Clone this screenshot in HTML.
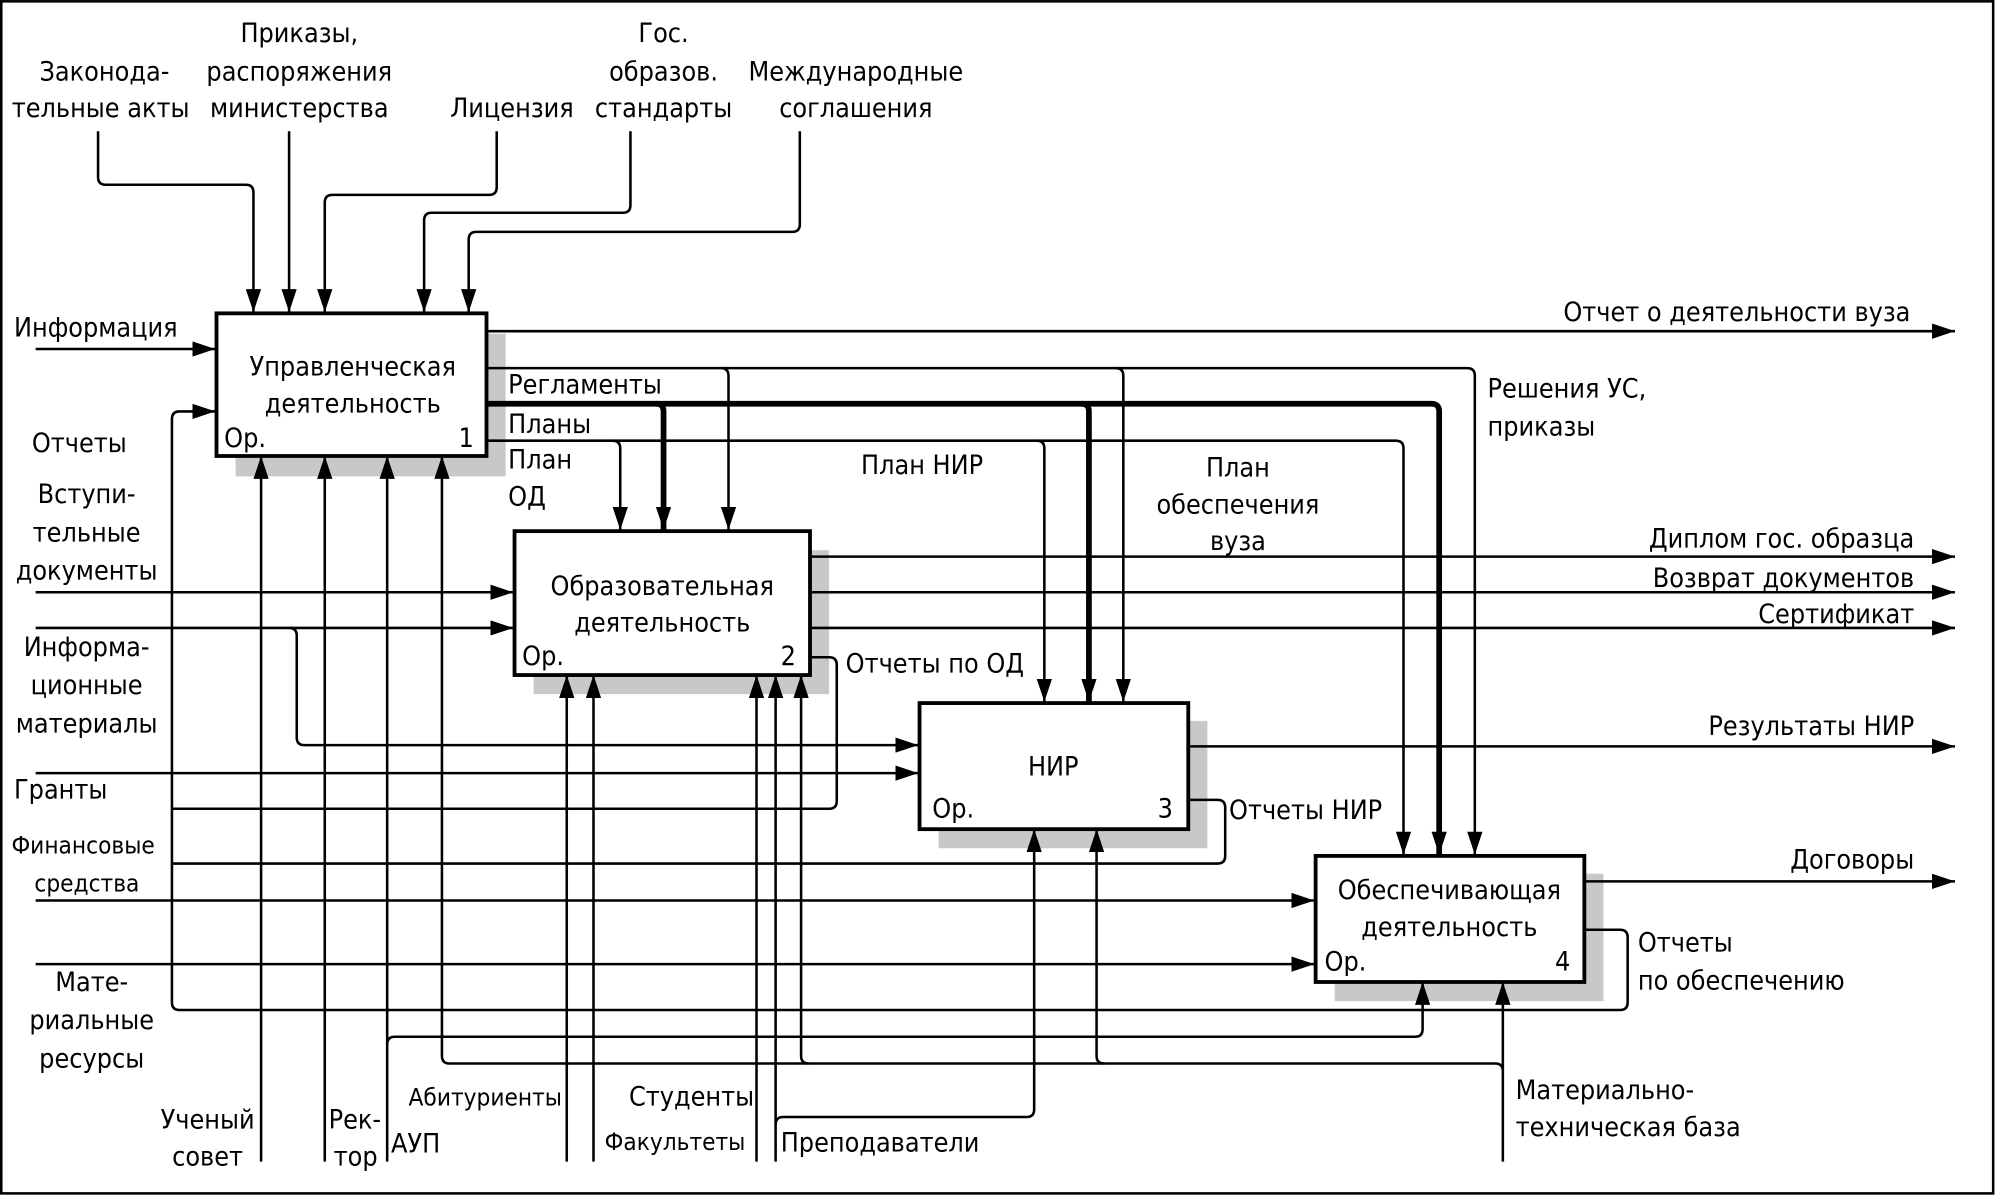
<!DOCTYPE html>
<html><head><meta charset="utf-8"><style>
html,body{margin:0;padding:0;background:#fff;}
svg{display:block;}
text{font-family:"DejaVu Sans Condensed","DejaVu Sans","Liberation Sans",sans-serif;font-size:21px;fill:#000;}
.c{text-anchor:middle}.r{text-anchor:end}.s{font-size:19px}
</style></head><body>
<svg width="1997" height="1196" viewBox="0 0 1568 939" xmlns="http://www.w3.org/2000/svg">
<defs>
<marker id="a" markerUnits="userSpaceOnUse" markerWidth="20" markerHeight="12" refX="18" refY="6" orient="auto">
<path d="M0,0 L18,6 L0,12 Z" fill="#000"/></marker>
</defs>
<rect x="1" y="1" width="1564" height="936" fill="none" stroke="#000" stroke-width="2"/>
<!-- shadows -->
<rect x="185" y="262" width="212" height="112" fill="#c8c8c8"/>
<rect x="419" y="432" width="232" height="113" fill="#c8c8c8"/>
<rect x="737" y="566" width="211" height="100" fill="#c8c8c8"/>
<rect x="1048" y="686" width="211" height="100" fill="#c8c8c8"/>
<g fill="none" stroke="#000" stroke-width="2">
<!-- controls box1 -->
<path d="M77 103 V139 Q77 145 83 145 H193 Q199 145 199 151 V245" marker-end="url(#a)"/>
<path d="M227 103 V245" marker-end="url(#a)"/>
<path d="M390 103 V147 Q390 153 384 153 H261 Q255 153 255 159 V245" marker-end="url(#a)"/>
<path d="M495 103 V161 Q495 167 489 167 H339 Q333 167 333 173 V245" marker-end="url(#a)"/>
<path d="M628 103 V176 Q628 182 622 182 H374 Q368 182 368 188 V245" marker-end="url(#a)"/>
<!-- inputs -->
<path d="M28 274 H169" marker-end="url(#a)"/>
<path d="M135 787 V329 Q135 323 141 323 H169" marker-end="url(#a)"/>
<path d="M637 516 H651 Q657 516 657 522 V629 Q657 635 651 635 H135"/>
<path d="M933 628 H956 Q962 628 962 634 V672 Q962 678 956 678 H135"/>
<path d="M1244 730 H1272 Q1278 730 1278 736 V787 Q1278 793 1272 793 H141 Q135 793 135 787"/>
<!-- box1 outputs -->
<path d="M382 260 H1535" marker-end="url(#a)"/>
<path d="M382 289 H1152 Q1158 289 1158 295 V671" marker-end="url(#a)"/>
<path d="M566 289 Q572 289 572 295 V416" marker-end="url(#a)"/>
<path d="M876 289 Q882 289 882 295 V551" marker-end="url(#a)"/>
<path d="M382 346 H1096 Q1102 346 1102 352 V671" marker-end="url(#a)"/>
<path d="M481 346 Q487 346 487 352 V416" marker-end="url(#a)"/>
<path d="M814 346 Q820 346 820 352 V551" marker-end="url(#a)"/>
<!-- box2 -->
<path d="M637 437 H1535" marker-end="url(#a)"/>
<path d="M637 465 H1535" marker-end="url(#a)"/>
<path d="M637 493 H1535" marker-end="url(#a)"/>
<path d="M28 465 H403" marker-end="url(#a)"/>
<path d="M28 493 H403" marker-end="url(#a)"/>
<path d="M227 493 Q233 493 233 499 V579 Q233 585 239 585 H721" marker-end="url(#a)"/>
<path d="M28 607 H721" marker-end="url(#a)"/>
<path d="M28 707 H1032" marker-end="url(#a)"/>
<path d="M28 757 H1032" marker-end="url(#a)"/>
<path d="M933 586 H1535" marker-end="url(#a)"/>
<path d="M1244 692 H1535" marker-end="url(#a)"/>
<!-- mechanisms -->
<path d="M205 912 V358" marker-end="url(#a)"/>
<path d="M255 912 V358" marker-end="url(#a)"/>
<path d="M304 912 V358" marker-end="url(#a)"/>
<path d="M304 820 Q304 814 310 814 H1111 Q1117 814 1117 808 V771" marker-end="url(#a)"/>
<path d="M1180 912 V771" marker-end="url(#a)"/>
<path d="M1180 841 Q1180 835 1174 835 H353 Q347 835 347 829 V358" marker-end="url(#a)"/>
<path d="M635 835 Q629 835 629 829 V530" marker-end="url(#a)"/>
<path d="M867 835 Q861 835 861 829 V651" marker-end="url(#a)"/>
<path d="M445 912 V530" marker-end="url(#a)"/>
<path d="M466 912 V530" marker-end="url(#a)"/>
<path d="M594 912 V530" marker-end="url(#a)"/>
<path d="M609 912 V530" marker-end="url(#a)"/>
<path d="M609 883 Q609 877 615 877 H806 Q812 877 812 871 V651" marker-end="url(#a)"/>
</g>
<g fill="none" stroke="#000" stroke-width="4.5">
<path d="M382 317 H1124 Q1130 317 1130 323 V671" marker-end="url(#a)"/>
<path d="M515 317 Q521 317 521 323 V416" marker-end="url(#a)"/>
<path d="M849 317 Q855 317 855 323 V551" marker-end="url(#a)"/>
</g>
<!-- boxes -->
<g fill="#fff" stroke="#000" stroke-width="3">
<rect x="170" y="246" width="212" height="112"/>
<rect x="404" y="417" width="232" height="113"/>
<rect x="722" y="552" width="211" height="99"/>
<rect x="1033" y="672" width="211" height="99"/>
</g>
<!-- labels -->
<text x="82" y="63" class="c">Законода-</text>
<text x="79" y="92" class="c">тельные акты</text>
<text x="235" y="33" class="c">Приказы,</text>
<text x="235" y="63" class="c">распоряжения</text>
<text x="235" y="92" class="c">министерства</text>
<text x="402" y="92" class="c">Лицензия</text>
<text x="521" y="33" class="c">Гос.</text>
<text x="521" y="63" class="c">образов.</text>
<text x="521" y="92" class="c">стандарты</text>
<text x="672" y="63" class="c">Международные</text>
<text x="672" y="92" class="c">соглашения</text>
<text x="11" y="264">Информация</text>
<text x="25" y="355">Отчеты</text>
<text x="68" y="395" class="c">Вступи-</text>
<text x="68" y="425" class="c">тельные</text>
<text x="68" y="455" class="c">документы</text>
<text x="68" y="515" class="c">Информа-</text>
<text x="68" y="545" class="c">ционные</text>
<text x="68" y="575" class="c">материалы</text>
<text x="11" y="627">Гранты</text>
<text x="9" y="670" class="s">Финансовые</text>
<text x="27" y="700" class="s">средства</text>
<text x="72" y="778" class="c">Мате-</text>
<text x="72" y="808" class="c">риальные</text>
<text x="72" y="838" class="c">ресурсы</text>
<text x="163" y="886" class="c">Ученый</text>
<text x="163" y="915" class="c">совет</text>
<text x="258" y="886">Рек-</text>
<text x="262" y="915">тор</text>
<text x="307" y="905">АУП</text>
<text x="381" y="868" class="c s">Абитуриенты</text>
<text x="543" y="868" class="c">Студенты</text>
<text x="530" y="903" class="c s">Факультеты</text>
<text x="613" y="904">Преподаватели</text>
<text x="1190" y="863">Материально-</text>
<text x="1190" y="892">техническая база</text>
<text x="277" y="295" class="c">Управленческая</text>
<text x="277" y="324" class="c">деятельность</text>
<text x="176" y="351">Ор.</text>
<text x="372" y="351" class="r">1</text>
<text x="399" y="309">Регламенты</text>
<text x="399" y="340">Планы</text>
<text x="399" y="368">План</text>
<text x="399" y="397">ОД</text>
<text x="724" y="372" class="c">План НИР</text>
<text x="972" y="374" class="c">План</text>
<text x="972" y="403" class="c">обеспечения</text>
<text x="972" y="432" class="c">вуза</text>
<text x="1500" y="252" class="r">Отчет о деятельности вуза</text>
<text x="1168" y="312">Решения УС,</text>
<text x="1168" y="342">приказы</text>
<text x="520" y="467" class="c">Образовательная</text>
<text x="520" y="496" class="c">деятельность</text>
<text x="410" y="522">Ор.</text>
<text x="625" y="522" class="r">2</text>
<text x="1503" y="430" class="r">Диплом гос. образца</text>
<text x="1503" y="461" class="r">Возврат документов</text>
<text x="1503" y="489" class="r">Сертификат</text>
<text x="664" y="528">Отчеты по ОД</text>
<text x="827" y="609" class="c">НИР</text>
<text x="732" y="642">Ор.</text>
<text x="921" y="642" class="r">3</text>
<text x="1503" y="577" class="r">Результаты НИР</text>
<text x="965" y="643">Отчеты НИР</text>
<text x="1138" y="706" class="c">Обеспечивающая</text>
<text x="1138" y="735" class="c">деятельность</text>
<text x="1040" y="762">Ор.</text>
<text x="1233" y="762" class="r">4</text>
<text x="1503" y="682" class="r">Договоры</text>
<text x="1286" y="747">Отчеты</text>
<text x="1286" y="777">по обеспечению</text>
</svg>
</body></html>
